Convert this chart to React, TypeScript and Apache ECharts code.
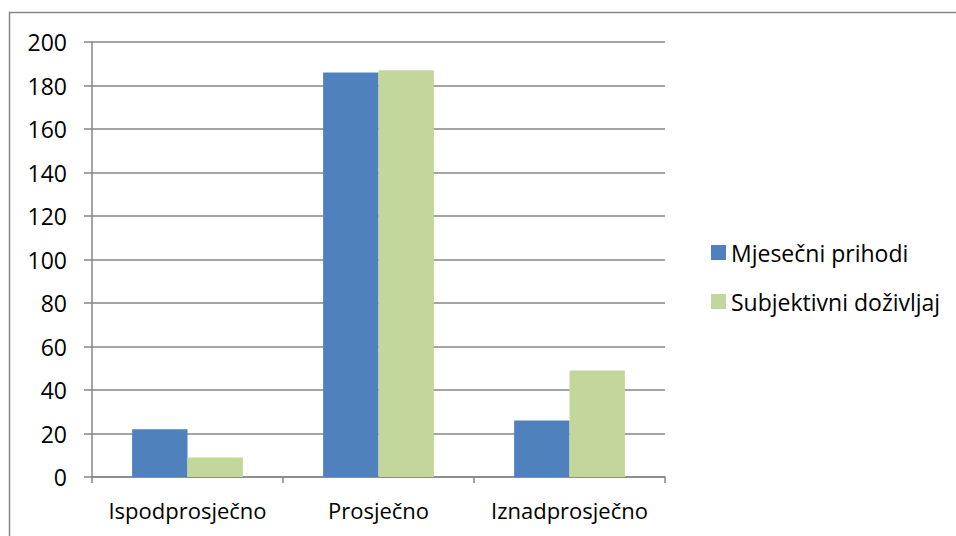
import React, { useEffect, useRef } from "react";
import * as echarts from "echarts";

const categories = ["Ispodprosječno", "Prosječno", "Iznadprosječno"];
const seriesNames = ["Mjesečni prihodi", "Subjektivni doživljaj"];
const mjesecniPrihodi = [22, 186, 26];
const subjektivniDozivljaj = [9, 187, 49];
const yTicks = { min: 0, max: 200, interval: 20 };

const FONT = "'Open Sans', 'Noto Sans', sans-serif";
const GRAY = "#868686";

export default function App() {
  const ref = useRef<HTMLDivElement>(null);
  useEffect(() => {
    if (!ref.current) return;
    const chart = echarts.init(ref.current, undefined, { renderer: "svg" });
    chart.setOption({
      animation: false,
      backgroundColor: "#ffffff",
      textStyle: { fontFamily: FONT },
      graphic: [
        {
          type: "rect",
          shape: { x: 9.5, y: 12.5, width: 1000, height: 600 },
          style: { fill: "none", stroke: GRAY, lineWidth: 1.5 },
          silent: true,
        },
      ],
      grid: { left: 92, right: 291, top: 42, bottom: 59, containLabel: false },
      legend: {
        orient: "vertical",
        left: 706,
        top: 236,
        itemWidth: 15,
        itemHeight: 15,
        itemGap: 26,
        icon: "rect",
        textStyle: { fontFamily: FONT, fontSize: 23, color: "#000", lineHeight: 22, padding: [0, 0, 0, 0] },
        data: seriesNames,
      },
      xAxis: {
        type: "category",
        data: categories,
        axisLine: { show: true, lineStyle: { color: GRAY, width: 1.5 } },
        axisTick: { show: true, length: 6, lineStyle: { color: GRAY, width: 1.5 } },
        axisLabel: { fontFamily: FONT, fontSize: 22, color: "#000", margin: 22, interval: 0 },
        splitLine: { show: false },
      },
      yAxis: {
        type: "value",
        min: yTicks.min,
        max: yTicks.max,
        interval: yTicks.interval,
        axisLine: { show: true, lineStyle: { color: GRAY, width: 1.5 } },
        axisTick: { show: true, length: 8, lineStyle: { color: GRAY, width: 1.5 } },
        axisLabel: { fontFamily: FONT, fontSize: 23, color: "#000", margin: 25 },
        splitLine: { show: true, lineStyle: { color: GRAY, width: 1.5 } },
      },
      series: [
        {
          name: seriesNames[0],
          type: "bar",
          data: mjesecniPrihodi,
          itemStyle: { color: "#4F81BD" },
          barGap: "0%",
          barCategoryGap: "42%",
        },
        {
          name: seriesNames[1],
          type: "bar",
          data: subjektivniDozivljaj,
          itemStyle: { color: "#C3D69B" },
          barGap: "0%",
          barCategoryGap: "42%",
        },
      ],
    });
    return () => chart.dispose();
  }, []);
  return (
    <div
      ref={ref}
      style={{ position: "absolute", left: 0, top: 0, width: 956, height: 536 }}
    />
  );
}
